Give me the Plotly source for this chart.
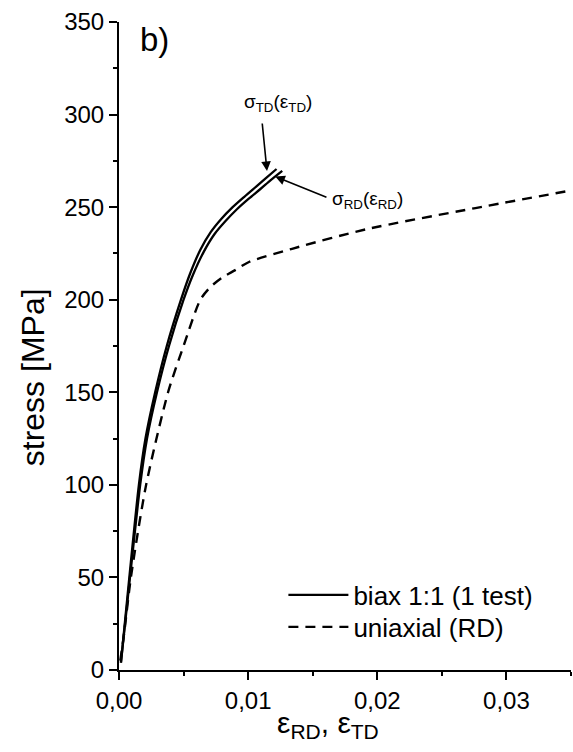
import plotly.graph_objects as go

# ---- data ----
strain_td = [0.00015, 0.0008, 0.00154, 0.00205, 0.0028, 0.0037, 0.0048, 0.0055, 0.0063,
             0.0071, 0.0079, 0.0088, 0.0097, 0.0106, 0.0114, 0.0122]
stress_td = [4, 50, 100, 125, 150, 175, 200, 214, 227, 236.5, 243.5, 250, 255.6, 261, 265.8, 270.6]

strain_rd = [0.00015, 0.00085, 0.00164, 0.00217, 0.00294, 0.00387, 0.0050, 0.00573, 0.00657,
             0.0074, 0.00825, 0.00915, 0.01005, 0.01095, 0.01175, 0.01264]
stress_rd = [4, 50, 100, 125, 150, 175, 200, 213.5, 226, 235.5, 242.5, 249, 254.6, 259.8, 264.6, 269.6]

strain_uni = [0.0001, 0.0004, 0.00092, 0.0021, 0.0038, 0.0050, 0.0063, 0.0071, 0.0080,
              0.0090, 0.0101, 0.0134, 0.0191, 0.0276, 0.035]
stress_uni = [5, 20, 50, 100, 150, 175, 200, 207, 212, 216, 220.5, 227.5, 238, 249.5, 259]

x_tickvals = [0.0, 0.01, 0.02, 0.03]
x_ticktext = ["0,00", "0,01", "0,02", "0,03"]
y_tickvals = [0, 50, 100, 150, 200, 250, 300, 350]
y_ticktext = ["0", "50", "100", "150", "200", "250", "300", "350"]

FONT = "Arial, Liberation Sans, sans-serif"

fig = go.Figure()
fig.add_trace(go.Scatter(x=strain_td, y=stress_td, mode="lines", name="biax 1:1 (1 test)",
                         legend="legend",
                         line=dict(color="black", width=2.3, shape="spline", smoothing=0.7)))
fig.add_trace(go.Scatter(x=strain_rd, y=stress_rd, mode="lines", name="biax RD", showlegend=False,
                         line=dict(color="black", width=2.3, shape="spline", smoothing=0.7)))
fig.add_trace(go.Scatter(x=strain_uni, y=stress_uni, mode="lines", name="uniaxial (RD)",
                         legend="legend2",
                         line=dict(color="black", width=2.4, dash="10px,7px", shape="spline", smoothing=0.7)))

axis_common = dict(showline=True, linecolor="black", linewidth=2, ticks="outside", ticklen=8,
                   tickwidth=1.5, tickcolor="black", showgrid=False, zeroline=False,
                   tickfont=dict(family=FONT, size=24, color="black"), mirror=False)

fig.update_xaxes(range=[0, 0.035], tickmode="array", tickvals=x_tickvals, ticktext=x_ticktext,
                 minor=dict(tickmode="linear", tick0=0, dtick=0.005, ticks="outside", ticklen=4,
                            tickwidth=1.5, tickcolor="black"),
                 **axis_common)
fig.update_yaxes(range=[0, 350], tickmode="array", tickvals=y_tickvals, ticktext=y_ticktext,
                 minor=dict(tickmode="linear", tick0=0, dtick=25, ticks="outside", ticklen=4,
                            tickwidth=1.5, tickcolor="black"),
                 **axis_common)

annotations = [
    dict(text="b)", x=0.00271, y=340.4, xref="x", yref="y", showarrow=False,
         font=dict(family=FONT, size=33, color="black")),
    dict(text="σ<sub>TD</sub>(ε<sub>TD</sub>)", x=0.0123, y=306, xref="x", yref="y", showarrow=False,
         font=dict(family=FONT, size=19, color="black")),
    dict(text="σ<sub>RD</sub>(ε<sub>RD</sub>)", x=0.01921, y=253.6, xref="x", yref="y", showarrow=False,
         font=dict(family=FONT, size=19, color="black")),
    # arrows
    dict(text="", x=0.01146, y=269.5, ax=0.01108, ay=296, xref="x", yref="y", axref="x", ayref="y",
         showarrow=True, arrowhead=2, arrowsize=1.2, arrowwidth=1.6, arrowcolor="black"),
    dict(text="", x=0.0121, y=266.5, ax=0.01618, ay=255, xref="x", yref="y", axref="x", ayref="y",
         showarrow=True, arrowhead=2, arrowsize=1.2, arrowwidth=1.6, arrowcolor="black"),
    # axis titles
    dict(text="stress [MPa]", x=-0.19, y=0.452, xref="paper", yref="paper", showarrow=False,
         xanchor="center", yanchor="middle",
         textangle=-90, font=dict(family=FONT, size=32, color="black")),
    dict(text="ε<sub>RD</sub>, ε<sub>TD</sub>", x=0.462, y=-0.053, xref="paper", yref="paper",
         showarrow=False, xanchor="center", yanchor="top", font=dict(family=FONT, size=30, color="black")),
]

legend_common = dict(xanchor="left", yanchor="middle", bgcolor="rgba(0,0,0,0)",
                     font=dict(family=FONT, size=26, color="black"), itemwidth=60)

fig.update_layout(
    width=573, height=752,
    margin=dict(l=119, r=2, t=22, b=82),
    paper_bgcolor="white", plot_bgcolor="white",
    font=dict(family=FONT, color="black"),
    annotations=annotations,
    legend=dict(x=0.3637, y=0.1157, **legend_common),
    legend2=dict(x=0.3637, y=0.0664, **legend_common),
)

fig.write_html("out.html", config={"displayModeBar": False},
               post_script="document.body.style.margin='0px';document.body.style.overflow='hidden';")
